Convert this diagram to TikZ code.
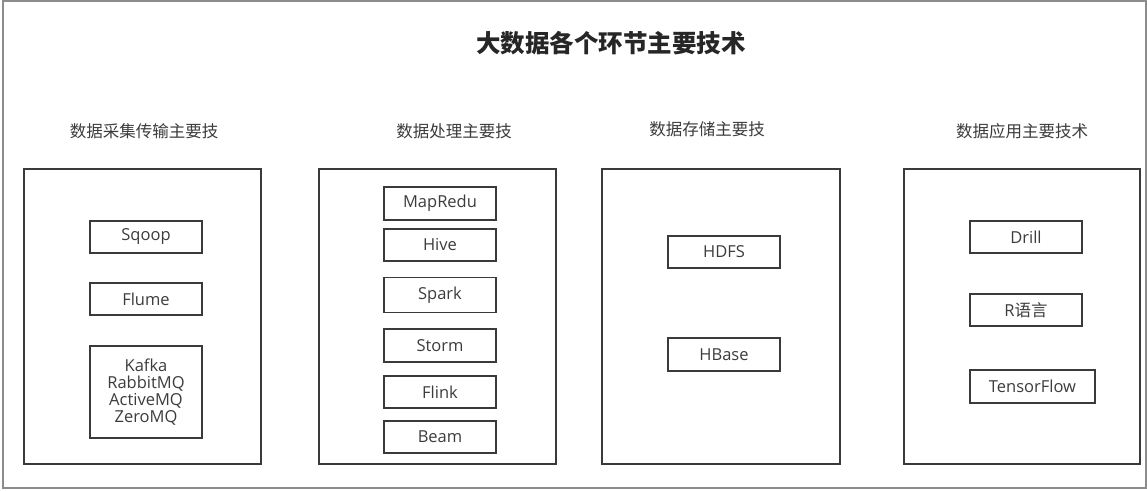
\documentclass[tikz,border=0pt]{standalone}
\usepackage{fontspec}
\setmainfont{Noto Sans CJK SC}
\newfontfamily\latinf{Open Sans}
\definecolor{edge}{HTML}{3A3A3A}
\definecolor{frame}{HTML}{8C8C8C}
\definecolor{txt}{HTML}{3C3C3C}
\begin{document}
\begin{tikzpicture}[x=1pt,y=-1pt,
  group/.style={draw=edge,line width=2pt,fill=none},
  item/.style={draw=edge,line width=1.8pt,rectangle,inner sep=0pt,text=txt,font=\latinf\fontsize{16.5}{17}\selectfont,align=center},
  head/.style={text=txt,font=\fontsize{16.5}{18}\selectfont},
]
\useasboundingbox (0,0) rectangle (1147,490);
\fill[white] (0,0) rectangle (1147,490);
\draw[frame,line width=2pt] (3,1) rectangle (1146,488);
\node[font=\bfseries\fontsize{24.5}{26}\selectfont,text=black!85] (title) at (611,43) {大数据各个环节主要技术};
% headings
\node[head] (h1) at (144,131) {数据采集传输主要技};
\node[head] (h2) at (454,131) {数据处理主要技};
\node[head] (h3) at (707,129) {数据存储主要技};
\node[head] (h4) at (1022,131) {数据应用主要技术};
% group boxes
\draw[group] (24,169) rectangle (261,464);
\draw[group] (319,169) rectangle (556,464);
\draw[group] (602,169) rectangle (840,464);
\draw[group] (904,169) rectangle (1140,464);
% column 1
\node[item,minimum width=112pt,minimum height=32pt] (sqoop) at (146,237) {Sqoop};
\node[item,minimum width=112pt,minimum height=32pt] (flume) at (146,299) {Flume};
\node[item,minimum width=112pt,minimum height=92pt,font=\latinf\fontsize{16.5}{17}\selectfont] (mq) at (146,392) {Kafka\\RabbitMQ\\ActiveMQ\\ZeroMQ};
% column 2
\node[item,minimum width=112pt,minimum height=33pt] (mr) at (440,203.5) {MapRedu};
\node[item,minimum width=112pt,minimum height=32pt] (hive) at (440,245) {Hive};
\node[item,minimum width=112pt,minimum height=35pt] (spark) at (440,295) {Spark};
\node[item,minimum width=112pt,minimum height=33pt] (storm) at (440,345.5) {Storm};
\node[item,minimum width=112pt,minimum height=32pt] (flink) at (440,392) {Flink};
\node[item,minimum width=112pt,minimum height=32pt] (beam) at (440,437) {Beam};
% column 3
\node[item,minimum width=112pt,minimum height=32pt] (hdfs) at (724,252) {HDFS};
\node[item,minimum width=112pt,minimum height=33pt] (hbase) at (724,354.5) {HBase};
% column 4
\node[item,minimum width=112pt,minimum height=32pt] (drill) at (1026,237) {Drill};
\node[item,minimum width=112pt,minimum height=32pt] (rlang) at (1026,310) {R\fontspec{Noto Sans CJK SC}语言};
\node[item,minimum width=125pt,minimum height=33pt] (tf) at (1032.5,386.5) {TensorFlow};
\end{tikzpicture}
\end{document}
